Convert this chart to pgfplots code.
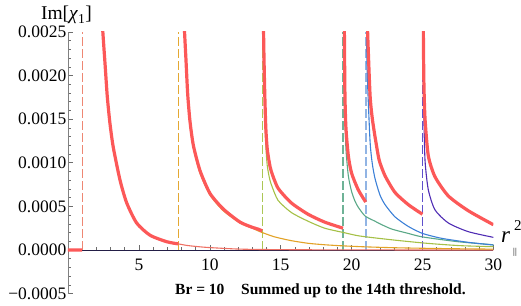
\documentclass[border=0pt]{standalone}
\usepackage{pgfplots}
\pgfplotsset{compat=1.18}
\usepackage{fontspec}
\setmainfont{Liberation Serif}
\definecolor{totred}{RGB}{252,88,88}
\definecolor{cA}{RGB}{238,112,100}
\definecolor{cB}{RGB}{226,162,38}
\definecolor{cC}{RGB}{165,192,70}
\definecolor{cD}{RGB}{90,168,135}
\definecolor{cE}{RGB}{60,128,215}
\definecolor{cF}{RGB}{80,45,180}
\definecolor{dA}{RGB}{238,135,115}
\definecolor{dB}{RGB}{228,168,50}
\definecolor{dC}{RGB}{172,198,85}
\definecolor{dD}{RGB}{110,178,150}
\definecolor{dE}{RGB}{145,180,228}
\definecolor{dF}{RGB}{95,80,205}
\definecolor{axnavy}{RGB}{35,30,70}
\begin{document}
\begin{tikzpicture}
\begin{axis}[
  scale only axis, width=425.4pt, height=261.6pt,
  xmin=0, xmax=30, ymin=-0.0005, ymax=0.0025,
  axis x line=middle, axis y line=left,
  axis line style={-},
  x axis line style={draw=axnavy, line width=0.9pt, -},
  y axis line style={draw=gray, line width=0.8pt, -},
  hide obscured x ticks=false, hide obscured y ticks=false,
  scaled y ticks=false,
  xtick={5,10,15,20,25,30},
  xticklabels={\textrm{5},\textrm{10},\textrm{15},\textrm{20},\textrm{25},\textrm{30}},
  minor xtick={1,2,3,4,6,7,8,9,11,12,13,14,16,17,18,19,21,22,23,24,26,27,28,29},
  ytick={-0.0005,0,0.0005,0.001,0.0015,0.002,0.0025},
  yticklabels={\textrm{−0.0005},\textrm{0.0000},\textrm{0.0005},\textrm{0.0010},\textrm{0.0015},\textrm{0.0020},\textrm{0.0025}},
  minor ytick={-0.0004,-0.0003,-0.0002,-0.0001,0.0001,0.0002,0.0003,0.0004,0.0006,0.0007,0.0008,0.0009,0.0011,0.0012,0.0013,0.0014,0.0016,0.0017,0.0018,0.0019,0.0021,0.0022,0.0023,0.0024},
  tick align=inside,
  major tick length=5pt, minor tick length=2.6pt,
  tick style={draw=gray!85!black, line width=0.6pt},
  xticklabel style={font=\rmfamily\fontsize{17.5}{17.5}\selectfont, inner sep=0pt, anchor=north, yshift=-8.7pt},
  yticklabel style={font=\rmfamily\fontsize{17.5}{17.5}\selectfont, inner sep=0pt, anchor=east, xshift=-1.5pt},
  unbounded coords=jump,
  clip=true,
]
% threshold lines
\addplot[dA, line width=1.2pt, dash pattern=on 9pt off 3pt] coordinates {(1.0,0) (1.0,0.0025)};
\addplot[dB, line width=1.2pt, dash pattern=on 9pt off 3pt] coordinates {(7.79,0) (7.79,0.0025)};
\addplot[dC, line width=1.2pt, dash pattern=on 9pt off 3pt] coordinates {(13.70,0) (13.70,0.0025)};
\addplot[dD, line width=1.2pt, dash pattern=on 9pt off 3pt] coordinates {(19.40,0) (19.40,0.0025)};
\addplot[dE, line width=2.4pt, dash pattern=on 9pt off 3pt] coordinates {(21.0,0) (21.0,0.0025)};
\addplot[dF, line width=1.2pt, dash pattern=on 9pt off 3pt] coordinates {(25.0,0) (25.0,0.0025)};
% components
\addplot[cA, line width=1.1pt, smooth, tension=0.4] coordinates {(1.002,0.012)(1.3,0.011)(1.6,0.0065)(2.0,0.0041)(2.3,0.003)(2.45,0.00252)(2.61,0.00214)(2.77,0.00176)(2.96,0.00145)(3.19,0.00118)(3.67,0.0008)(4.14,0.00054)(4.84,0.00031)(5.78,0.00017)(6.96,0.000095)(7.78,0.00007)(8.5,0.00005)(9.78,0.00003)(12.13,0.00001)(15,0.000004)(20,0.000001)(30,0)};
\addplot[cB, line width=1.1pt, smooth, tension=0.4] coordinates {(7.793,0.007)(7.84,0.0062)(7.9,0.0052)(8.0,0.0038)(8.1,0.003)(8.2,0.00252)(8.32,0.00213)(8.44,0.00175)(8.6,0.00144)(8.84,0.00117)(9.31,0.00088)(10.01,0.00063)(10.95,0.00045)(12.13,0.00031)(13.0,0.00025)(13.4,0.00022)(13.7,0.0002)(14.58,0.00015)(15.75,0.000107)(16.93,0.000077)(18.1,0.00006)(19.44,0.000047)(21,0.000036)(23,0.000026)(25,0.00002)(27.5,0.000014)(30,0.00001)};
\addplot[cC, line width=1.1pt, smooth, tension=0.4] coordinates {(13.702,0.006)(13.73,0.0037)(13.76,0.0028)(13.8,0.0022)(13.87,0.00163)(13.95,0.0012)(14.05,0.00097)(14.2,0.00083)(14.34,0.00075)(14.81,0.00057)(15.75,0.00043)(16.93,0.00033)(18.1,0.00025)(19.44,0.0002)(20.59,0.00016)(22.94,0.000115)(25.3,0.000077)(27.64,0.00005)(30,0.000038)};
\addplot[cD, line width=1.1pt, smooth, tension=0.4] coordinates {(19.402,0.006)(19.44,0.0035)(19.47,0.0026)(19.49,0.00225)(19.53,0.00155)(19.6,0.00116)(19.77,0.00085)(20.0,0.00067)(20.24,0.00056)(20.47,0.00049)(20.95,0.00039)(21.65,0.00033)(22.0,0.0003)(22.83,0.00024)(24,0.00019)(25,0.00015)(27.5,0.000095)(30,0.00006)};
\addplot[cE, line width=1.1pt, smooth, tension=0.4] coordinates {(21.002,0.006)(21.03,0.0035)(21.06,0.0024)(21.13,0.0019)(21.3,0.00125)(21.45,0.001)(21.65,0.00082)(22.0,0.00063)(22.36,0.00052)(23.06,0.00038)(24,0.00027)(25,0.00019)(26.35,0.000134)(28.23,0.000088)(30,0.000057)};
\addplot[cF, line width=1.1pt, smooth, tension=0.4] coordinates {(25.002,0.006)(25.03,0.0033)(25.06,0.0021)(25.1,0.0015)(25.18,0.00102)(25.41,0.00069)(25.88,0.00046)(26.82,0.00031)(28.23,0.00021)(30,0.000145)};
% total
\addplot[totred, line width=3.2pt, smooth, tension=0.4] coordinates {
(0,0)(1,0)(1,nan)
(1.002,0.012)(1.3,0.011)(1.6,0.0065)(2.0,0.0041)(2.3,0.003)(2.45,0.00252)(2.61,0.00214)(2.77,0.00176)(2.96,0.00145)(3.19,0.00118)(3.67,0.0008)(4.14,0.00054)(4.84,0.00031)(5.78,0.00017)(6.96,0.000095)(7.785,0.00007)(7.79,nan)
(7.793,0.007)(7.84,0.0062)(7.9,0.0053)(8.0,0.0039)(8.1,0.0031)(8.2,0.00257)(8.32,0.00218)(8.44,0.00179)(8.6,0.00148)(8.84,0.0012)(9.31,0.00091)(10.01,0.00065)(10.95,0.00047)(12.13,0.00032)(13.0,0.00026)(13.4,0.00024)(13.695,0.00022)(13.7,nan)
(13.702,0.006)(13.73,0.0039)(13.76,0.003)(13.8,0.0024)(13.87,0.00183)(13.95,0.0014)(14.05,0.00116)(14.2,0.001)(14.34,0.0009)(14.81,0.00071)(15.75,0.00054)(16.93,0.00041)(18.1,0.00032)(19.395,0.00025)(19.4,nan)
(19.402,0.006)(19.44,0.0037)(19.47,0.0028)(19.49,0.0025)(19.53,0.00178)(19.6,0.0014)(19.77,0.00108)(20.0,0.00088)(20.47,0.00069)(20.995,0.00055)(21,nan)
(21.002,0.006)(21.05,0.0037)(21.09,0.0029)(21.13,0.0025)(21.3,0.00178)(21.45,0.00152)(21.65,0.0013)(21.88,0.00108)(22.0,0.001)(22.36,0.00085)(23.06,0.00066)(24,0.00052)(24.995,0.00041)(25,nan)
(25.002,0.006)(25.03,0.0036)(25.06,0.0025)(25.1,0.0019)(25.18,0.0015)(25.41,0.00108)(25.88,0.00084)(26.82,0.00062)(28.23,0.00045)(30,0.00029)};
\coordinate (O) at (rel axis cs:0,0);
\end{axis}
\node[anchor=base, inner sep=0pt, font=\fontsize{19.5}{19.5}\selectfont, xshift=-1.5pt, yshift=273.6pt] at (O) {Im[\textit{χ}\textsubscript{1}]};
\node[anchor=base west, inner sep=0pt, font=\fontsize{23}{23}\selectfont, xshift=433pt, yshift=51pt] at (O) {\textit{r}};
\node[anchor=base west, inner sep=0pt, font=\fontsize{15}{15}\selectfont, xshift=446pt, yshift=62.6pt] at (O) {2};
\node[anchor=base west, inner sep=0pt, font=\fontsize{9}{9}\selectfont, xshift=445pt, yshift=39pt] at (O) {||};
\node[anchor=base west, inner sep=0pt, font=\fontsize{15.5}{15.5}\selectfont\bfseries, xshift=107pt, yshift=-0.4pt] at (O) {Br = 10\hspace{1.08em}Summed up to the 14th threshold.};
\pgfresetboundingbox
\path[use as bounding box] (O) ++(-68pt,-11.4pt) rectangle ++(521pt,305pt);
\end{tikzpicture}
\end{document}
